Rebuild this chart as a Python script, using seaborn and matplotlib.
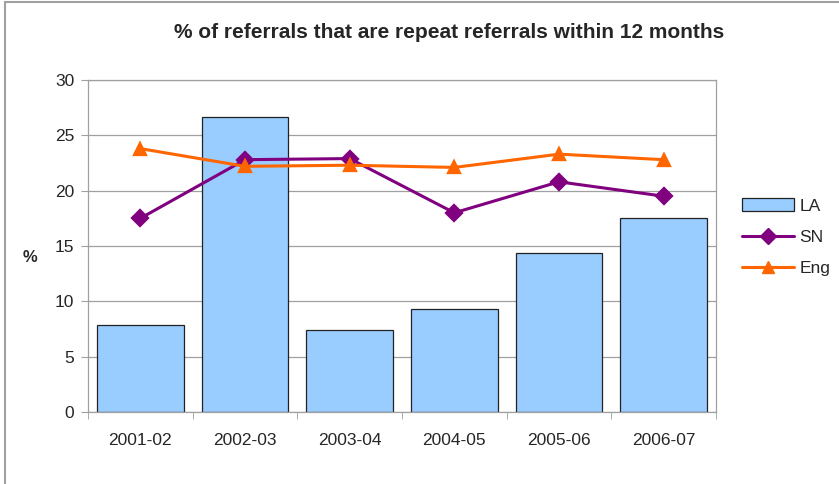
import matplotlib
matplotlib.use('Agg')
import matplotlib.pyplot as plt
import seaborn as sns
import pandas as pd
from matplotlib.patches import Patch
from matplotlib.lines import Line2D
from matplotlib.ticker import FixedLocator

# data
years = ['2001-02', '2002-03', '2003-04', '2004-05', '2005-06', '2006-07']
la = [7.9, 26.7, 7.4, 9.3, 14.4, 17.5]
sn = [17.5, 22.8, 22.9, 18.0, 20.8, 19.5]
eng = [23.8, 22.2, 22.3, 22.1, 23.3, 22.8]

sns.set_style('white')
plt.rcParams['font.family'] = ['Liberation Sans', 'DejaVu Sans']

df = pd.DataFrame({'year': years, 'LA': la, 'SN': sn, 'Eng': eng})

fig = plt.figure(figsize=(8.39, 4.84), dpi=100)
ax = fig.add_axes([88 / 839, 1 - 412 / 484, 628 / 839, 332 / 484])

bar_col = '#99CCFF'
sn_col = '#800080'
eng_col = '#FF6600'

sns.barplot(data=df, x='year', y='LA', color=bar_col, edgecolor='#222222',
            linewidth=0.9, width=0.83, saturation=1, ax=ax, zorder=2)
sns.pointplot(data=df, x='year', y='SN', color=sn_col, markers='D',
              linestyles='-', errorbar=None, ax=ax, markersize=8,
              linewidth=2.2)
sns.pointplot(data=df, x='year', y='Eng', color=eng_col, markers='^',
              linestyles='-', errorbar=None, ax=ax, markersize=9,
              linewidth=2.2)

ax.set_xlim(-0.5, 5.5)
ax.set_ylim(0, 30)
ax.set_yticks(range(0, 31, 5))
ax.yaxis.grid(True, color='#A0A0A0', linewidth=0.9, zorder=0)
ax.set_axisbelow(True)
for s in ax.spines.values():
    s.set_color('#A0A0A0')
    s.set_linewidth(0.9)

ax.tick_params(axis='y', direction='out', length=5, color='#A0A0A0',
               labelsize=12.5, pad=5, left=True)
ax.tick_params(axis='x', which='major', length=0, labelsize=12.5, pad=15)
ax.xaxis.set_minor_locator(FixedLocator([i - 0.5 for i in range(7)]))
ax.tick_params(axis='x', which='minor', direction='out', length=5,
               color='#A0A0A0', bottom=True)

ax.set_xlabel('')
ax.set_ylabel('%', fontsize=12, fontweight='bold', rotation=0,
              va='center', ha='center')
ax.yaxis.set_label_coords((30 - 88) / 628, (412 - 258) / 332)
fig.text(449 / 839, 1 - 32 / 484,
         '% of referrals that are repeat referrals within 12 months',
         fontsize=15, fontweight='bold', ha='center', va='center')

handles = [
    Patch(facecolor=bar_col, edgecolor='#222222', linewidth=0.9),
    Line2D([], [], color=sn_col, marker='D', markersize=8, linewidth=2.2),
    Line2D([], [], color=eng_col, marker='^', markersize=9, linewidth=2.2),
]
fig.legend(handles, ['LA', 'SN', 'Eng'], loc='center left',
           bbox_to_anchor=(730 / 839, 1 - 237 / 484), frameon=False,
           fontsize=12.5, handlelength=3.0, handleheight=0.8,
           labelspacing=0.9, handletextpad=0.3, borderpad=0.2)

# outer chart border (left and top edges visible)
fig.add_artist(Line2D([5 / 839, 5 / 839], [0, 1 - 2 / 484],
                      transform=fig.transFigure, color='#A0A0A0', linewidth=1.5))
fig.add_artist(Line2D([5 / 839, 1], [1 - 2 / 484, 1 - 2 / 484],
                      transform=fig.transFigure, color='#A0A0A0', linewidth=1.5))

fig.savefig('out.png', dpi=100)
